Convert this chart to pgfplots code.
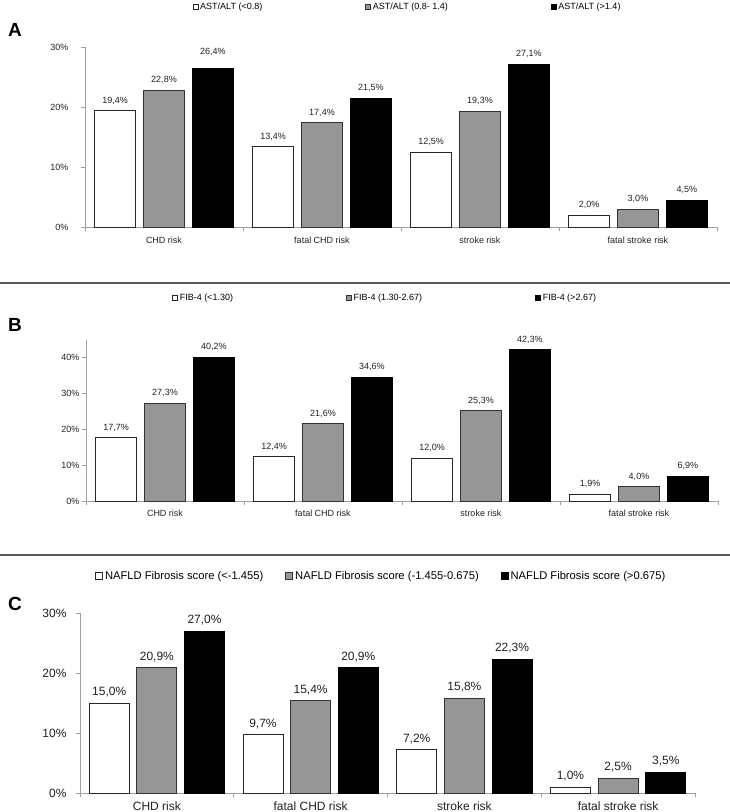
\documentclass[border=0pt]{standalone}
\usepackage{fontspec}
\setmainfont{Liberation Sans}
\usepackage{pgfplots}
\pgfplotsset{compat=1.18}
\definecolor{axgray}{HTML}{A0A0A0}
\definecolor{bargray}{HTML}{969696}
\definecolor{sepgray}{HTML}{5A5A5A}
\definecolor{txt}{HTML}{202020}

\pgfplotstableread{
x y off
0 19.4 0
1 13.4 0
2 12.5 0
3 2.0 0
}\Aw
\pgfplotstableread{
x y off
0 22.8 0
1 17.4 0
2 19.3 0
3 3.0 0
}\Ag
\pgfplotstableread{
x y off
0 26.4 7
1 21.5 0
2 27.1 0
3 4.5 0
}\Ab
\pgfplotstableread{
x y off
0 17.7 0
1 12.4 0
2 12.0 0
3 1.9 0
}\Bw
\pgfplotstableread{
x y off
0 27.3 0
1 21.6 0
2 25.3 0
3 4.0 0
}\Bg
\pgfplotstableread{
x y off
0 40.2 0
1 34.6 0
2 42.3 0
3 6.9 0
}\Bb
\pgfplotstableread{
x y off
0 15.0 0
1 9.7 0
2 7.2 0
3 1.0 0
}\Cw
\pgfplotstableread{
x y off
0 20.9 0
1 15.4 0
2 15.8 0
3 2.5 0
}\Cg
\pgfplotstableread{
x y off
0 27.0 0
1 20.9 0
2 22.3 0
3 3.5 0
}\Cb

\pgfplotsset{
  panel/.style={
    scale only axis,
    ybar,
    /pgf/number format/assume math mode=true,
    axis lines*=left,
    axis line style={draw=axgray, line width=0.8pt},
    xmin=-0.5, xmax=3.5, ymin=0,
    xtick={-0.5,0.5,1.5,2.5,3.5},
    xticklabels={},
    extra x ticks={0,1,2,3},
    extra x tick labels={CHD risk,fatal CHD risk,stroke risk,fatal stroke risk},
    extra x tick style={major tick length=0pt},
    xtick align=outside, ytick align=outside,
    major tick length=4pt,
    tick style={draw=axgray, line width=0.8pt},
    yticklabel={\pgfmathprintnumber{\tick}\%},
    tick label style={text=txt},
    bar width=0.26,
    nodes near coords={\pgfmathprintnumber[fixed,fixed zerofill,precision=1,use comma]{\pgfplotspointmeta}\%},
    nodes near coords style={text=txt},
    visualization depends on={\thisrow{off}\as\myoff},
    legend cell align=left,
    clip=false,
  },
  wbar/.style={fill=white, draw=black!85, line width=0.9pt, bar shift=-0.31},
  gbar/.style={fill=bargray, draw=black!80, line width=0.9pt, bar shift=0},
  kbar/.style={fill=black, draw=black, line width=0.9pt, bar shift=0.31},
}

\begin{document}
\begin{tikzpicture}
\path[use as bounding box] (0,0) rectangle (730pt,-812pt);
\draw[sepgray, line width=1.2pt] (0pt,-283pt) -- (730pt,-283pt);
\draw[sepgray, line width=1.2pt] (0pt,-555pt) -- (730pt,-555pt);
\node[font=\fontsize{19}{21}\selectfont\bfseries] at (15pt,-30pt) {A};
\node[font=\fontsize{19}{21}\selectfont\bfseries] at (15pt,-325pt) {B};
\node[font=\fontsize{19}{21}\selectfont\bfseries] at (15pt,-604pt) {C};

% ---------------- A
\begin{axis}[panel,
  at={(85pt,-227pt)}, anchor=south west,
  width=632pt, height=180pt,
  ymax=30, ytick={0,10,20,30},
  font=\fontsize{9}{11}\selectfont,
  yticklabel style={xshift=-9pt},
  xticklabel style={yshift=-6pt},
  every node near coord/.append style={yshift=2.5pt+\myoff pt},
  legend image code/.code={\draw[#1,/tikz/.cd,line width=0.6pt] (0pt,-2.5pt) rectangle (5pt,2.5pt);},
  legend style={draw=none, fill=none, inner sep=0pt, at={(0.17,1.222)}, anchor=west,
    font=\fontsize{9}{11}\selectfont, legend columns=3,
    /tikz/every even column/.append style={column sep=101pt}},
]
\addplot[wbar] table[x=x,y=y] {\Aw};
\addplot[gbar] table[x=x,y=y] {\Ag};
\addplot[kbar] table[x=x,y=y] {\Ab};
\legend{AST/ALT (<0.8),AST/ALT (0.8- 1.4),AST/ALT (>1.4)}
\end{axis}

% ---------------- B
\begin{axis}[panel,
  at={(86pt,-501pt)}, anchor=south west,
  width=632pt, height=161pt,
  ymax=45, ytick={0,10,20,30,40},
  font=\fontsize{9}{11}\selectfont,
  yticklabel style={xshift=1pt},
  xticklabel style={yshift=-5pt},
  every node near coord/.append style={yshift=2.5pt+\myoff pt},
  legend image code/.code={\draw[#1,/tikz/.cd,line width=0.6pt] (0pt,-2.5pt) rectangle (5pt,2.5pt);},
  legend style={draw=none, fill=none, inner sep=0pt, at={(0.136,1.261)}, anchor=west,
    font=\fontsize{9}{11}\selectfont, legend columns=3,
    /tikz/every even column/.append style={column sep=111pt}},
]
\addplot[wbar] table[x=x,y=y] {\Bw};
\addplot[gbar] table[x=x,y=y] {\Bg};
\addplot[kbar] table[x=x,y=y] {\Bb};
\legend{FIB-4 (<1.30),FIB-4 (1.30-2.67),FIB-4 (>2.67)}
\end{axis}

% ---------------- C
\begin{axis}[panel,
  at={(80pt,-793pt)}, anchor=south west,
  width=615pt, height=180pt,
  ymax=30, ytick={0,10,20,30},
  font=\fontsize{12}{14}\selectfont,
  yticklabel style={xshift=-6pt},
  xticklabel style={yshift=-5pt},
  every node near coord/.append style={yshift=2pt+\myoff pt},
  legend image code/.code={\draw[#1,/tikz/.cd,line width=0.8pt] (0pt,-3.5pt) rectangle (7pt,3.5pt);},
  legend style={draw=none, fill=none, inner sep=0pt, at={(0.0244,1.206)}, anchor=west,
    font=\fontsize{11.2}{13}\selectfont, legend columns=3,
    /tikz/every even column/.append style={column sep=20pt}},
]
\addplot[wbar] table[x=x,y=y] {\Cw};
\addplot[gbar] table[x=x,y=y] {\Cg};
\addplot[kbar] table[x=x,y=y] {\Cb};
\legend{NAFLD Fibrosis score (<-1.455),NAFLD Fibrosis score (-1.455-0.675),NAFLD Fibrosis score (>0.675)}
\end{axis}
\end{tikzpicture}
\end{document}
